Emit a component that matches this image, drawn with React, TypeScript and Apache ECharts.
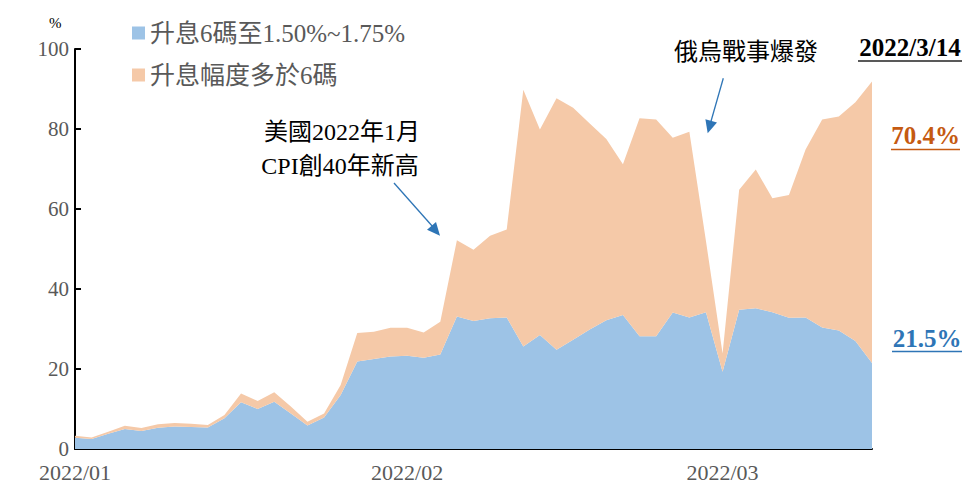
import React, { useEffect, useRef } from "react";
import * as echarts from "echarts";

const dates = [
  "2022/01/03","2022/01/04","2022/01/05","2022/01/06","2022/01/07",
  "2022/01/10","2022/01/11","2022/01/12","2022/01/13","2022/01/14",
  "2022/01/18","2022/01/19","2022/01/20","2022/01/21",
  "2022/01/24","2022/01/25","2022/01/26","2022/01/27","2022/01/28",
  "2022/01/31",
  "2022/02/01","2022/02/02","2022/02/03","2022/02/04",
  "2022/02/07","2022/02/08","2022/02/09","2022/02/10","2022/02/11",
  "2022/02/14","2022/02/15","2022/02/16","2022/02/17","2022/02/18",
  "2022/02/22","2022/02/23","2022/02/24","2022/02/25","2022/02/28",
  "2022/03/01","2022/03/02","2022/03/03","2022/03/04",
  "2022/03/07","2022/03/08","2022/03/09","2022/03/10","2022/03/11",
  "2022/03/14",
];

const hike6 = [
  2.8, 2.5, 3.8, 5.0, 4.5, 5.3, 5.6, 5.5, 5.4, 7.7,
  11.7, 10.0, 11.8, 8.9, 5.9, 7.9, 13.5, 21.9, 22.5, 23.1,
  23.3, 22.8, 23.6, 33.1, 32.0, 32.7, 32.9, 25.6, 28.5, 24.8,
  27.3, 29.9, 32.2, 33.5, 28.2, 28.2, 34.1, 32.9, 34.2, 19.3,
  34.8, 35.2, 34.2, 32.8, 32.9, 30.4, 29.6, 27.0, 21.5,
];

const hikeMore = [
  0.5, 0.4, 0.5, 0.8, 0.75, 0.9, 0.9, 0.8, 0.6, 0.8,
  2.2, 2.0, 2.4, 1.7, 0.9, 1.0, 2.5, 7.1, 6.8, 7.2,
  7.0, 6.3, 8.2, 19.1, 17.8, 20.6, 22.0, 64.2, 51.4, 62.9,
  58.0, 51.5, 45.3, 37.7, 54.5, 54.2, 43.7, 46.4, 17.8, 4.6,
  30.0, 34.7, 28.5, 30.7, 42.0, 52.0, 53.5, 59.7, 70.4,
];

const monthLabelIdx = [0, 20, 39];
const seriesNames = ["升息6碼至1.50%~1.75%", "升息幅度多於6碼"];
const yTicks = { min: 0, max: 100, interval: 20 };

const SERIF = "'Liberation Serif', 'Times New Roman', 'Noto Sans CJK TC', serif";
const BLUE = "#9DC3E6";
const ORANGE = "#F5C9A8";

export default function App() {
  const ref = useRef<HTMLDivElement>(null);
  useEffect(() => {
    if (!ref.current) return;
    const chart = echarts.init(ref.current, null, { renderer: "svg" });
    chart.setOption({
      animation: false,
      grid: { left: 75, right: 93, top: 49, bottom: 37, containLabel: false },
      legend: {
        orient: "vertical",
        left: 127,
        top: 15,
        icon: "rect",
        itemWidth: 13,
        itemHeight: 13,
        itemGap: 16,
        data: seriesNames,
        textStyle: { fontFamily: SERIF, fontSize: 25, color: "#595959", lineHeight: 26 },
      },
      xAxis: {
        type: "category",
        boundaryGap: false,
        data: dates,
        axisLine: { lineStyle: { color: "#000", width: 2 } },
        axisTick: { show: false },
        axisLabel: {
          interval: (idx: number) => monthLabelIdx.includes(idx),
          formatter: (v: string) => v.slice(0, 7),
          fontFamily: SERIF,
          fontSize: 22,
          color: "#595959",
          margin: 12,
        },
      },
      yAxis: {
        type: "value",
        min: yTicks.min,
        max: yTicks.max,
        interval: yTicks.interval,
        splitLine: { show: false },
        axisLine: { show: true, lineStyle: { color: "#000", width: 2 } },
        axisTick: { show: true, inside: true, length: 6, lineStyle: { color: "#000", width: 2 } },
        axisLabel: { fontFamily: SERIF, fontSize: 21, color: "#595959", margin: 6 },
      },
      series: [
        {
          name: seriesNames[0],
          type: "line",
          stack: "total",
          data: hike6,
          symbol: "none",
          lineStyle: { width: 0 },
          areaStyle: { color: BLUE, opacity: 1 },
          itemStyle: { color: BLUE },
        },
        {
          name: seriesNames[1],
          type: "line",
          stack: "total",
          data: hikeMore,
          symbol: "none",
          lineStyle: { width: 0 },
          areaStyle: { color: ORANGE, opacity: 1 },
          itemStyle: { color: ORANGE },
        },
      ],
      graphic: [
        { type: "text", left: 49, top: 15, style: { text: "%", fontFamily: SERIF, fontSize: 15, fill: "#000" } },
        { type: "text", x: 342, y: 132, style: { text: "美國2022年1月", fontFamily: SERIF, fontSize: 24, fill: "#000", align: "center", verticalAlign: "middle" } },
        { type: "text", x: 340, y: 166, style: { text: "CPI創40年新高", fontFamily: SERIF, fontSize: 24, fill: "#000", align: "center", verticalAlign: "middle" } },
        { type: "line", shape: { x1: 394, y1: 183, x2: 433, y2: 227 }, style: { stroke: "#2E75B6", lineWidth: 1.3 } },
        { type: "polygon", shape: { points: [[440, 235.7], [427, 229.8], [436, 222]] }, style: { fill: "#2E75B6" } },
        { type: "text", x: 746, y: 52, style: { text: "俄烏戰事爆發", fontFamily: SERIF, fontSize: 24, fill: "#000", align: "center", verticalAlign: "middle" } },
        { type: "line", shape: { x1: 723.3, y1: 78.3, x2: 710.5, y2: 123 }, style: { stroke: "#2E75B6", lineWidth: 1.3 } },
        { type: "polygon", shape: { points: [[707.7, 133.3], [705.4, 119.2], [717, 122.4]] }, style: { fill: "#2E75B6" } },
        { type: "text", x: 910, y: 47, style: { text: "2022/3/14", fontFamily: SERIF, fontSize: 25, fontWeight: "bold", fill: "#000", align: "center", verticalAlign: "middle" } },
        { type: "line", shape: { x1: 858, y1: 61, x2: 962, y2: 61 }, style: { stroke: "#595959", lineWidth: 2 } },
        { type: "text", x: 925.5, y: 135, style: { text: "70.4%", fontFamily: SERIF, fontSize: 25, fontWeight: "bold", fill: "#C55A11", align: "center", verticalAlign: "middle" } },
        { type: "line", shape: { x1: 891, y1: 149.5, x2: 960, y2: 149.5 }, style: { stroke: "#C55A11", lineWidth: 1.5 } },
        { type: "text", x: 927, y: 338, style: { text: "21.5%", fontFamily: SERIF, fontSize: 25, fontWeight: "bold", fill: "#2E75B6", align: "center", verticalAlign: "middle" } },
        { type: "line", shape: { x1: 892, y1: 351.5, x2: 962, y2: 351.5 }, style: { stroke: "#2E75B6", lineWidth: 1.5 } },
      ],
    });
    return () => chart.dispose();
  }, []);
  return <div ref={ref} style={{ width: 965, height: 486, position: "absolute", left: 0, top: 0 }} />;
}
